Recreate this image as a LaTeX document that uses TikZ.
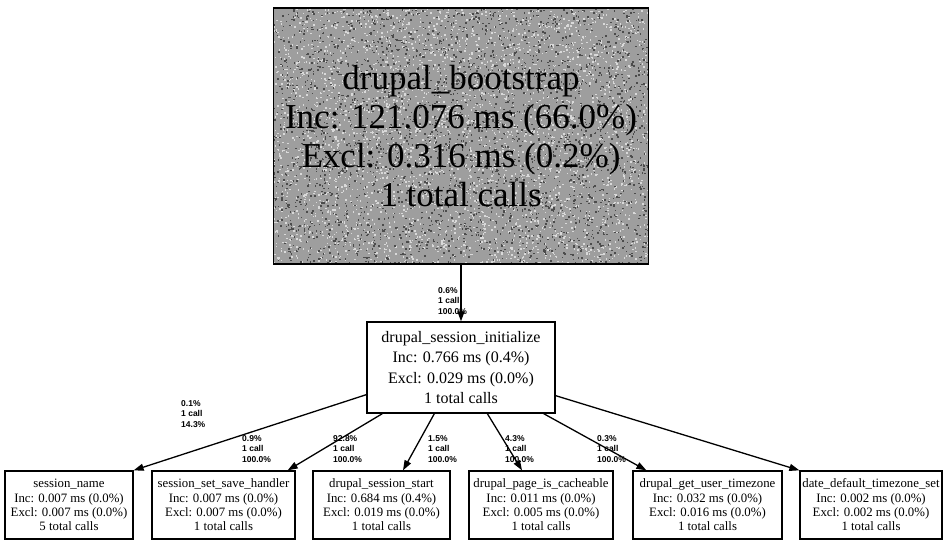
\documentclass[tikz,border=0pt]{standalone}
\usepackage{fontspec}
\setmainfont{Liberation Serif}
\newfontfamily\lblfont{Liberation Sans}
\usetikzlibrary{arrows.meta,calc,backgrounds}
\begin{document}
\begin{tikzpicture}[x=1pt,y=-1pt,
  fn/.style={draw, line width=1.3pt, inner sep=0pt, align=center, anchor=center},
  bigbox/.style={fn, minimum width=375pt, minimum height=256pt, font=\fontsize{35}{39}\selectfont},
  midbox/.style={fn, fill=white, minimum width=188pt, minimum height=91pt, font=\fontsize{16}{20.3}\selectfont},
  leaf/.style={fn, minimum height=68pt, font=\fontsize{12.8}{14.3}\selectfont},
  call/.style={-{Triangle[length=10pt,width=7pt]}, line width=1.3pt},
  lbl/.style={inner sep=0pt, anchor=north west, align=left, font=\lblfont\bfseries\fontsize{8.5}{10.8}\selectfont}]
\useasboundingbox (0,0) rectangle (943,540);

\node[bigbox] (boot) at (461,136) {drupal\_bootstrap\\Inc: 121.076 ms (66.0\%)\\Excl: 0.316 ms (0.2\%)\\1 total calls};
\begin{scope}[on background layer]
  \fill[black!38] (boot.north west) rectangle (boot.south east);
  \clip (boot.north west) rectangle (boot.south east);
  \pgfmathsetseed{7}
  \foreach \i in {1,...,3500} {
    \pgfmathsetmacro{\rx}{273+375*rnd}
    \pgfmathsetmacro{\ry}{8+256*rnd}
    \fill[white!85!black] (\rx,\ry) rectangle ++(1.5,1.5);
  }
  \foreach \i in {1,...,3000} {
    \pgfmathsetmacro{\rx}{273+375*rnd}
    \pgfmathsetmacro{\ry}{8+256*rnd}
    \fill[black!70] (\rx,\ry) rectangle ++(1.5,1.5);
  }
\end{scope}

\node[midbox] (init) at (461,367.5) {drupal\_session\_initialize\\Inc: 0.766 ms (0.4\%)\\Excl: 0.029 ms (0.0\%)\\1 total calls};

\node[leaf, minimum width=128pt] (sn) at (69,505) {session\_name\\Inc: 0.007 ms (0.0\%)\\Excl: 0.007 ms (0.0\%)\\5 total calls};
\node[leaf, minimum width=143pt] (ssh) at (223.5,505) {session\_set\_save\_handler\\Inc: 0.007 ms (0.0\%)\\Excl: 0.007 ms (0.0\%)\\1 total calls};
\node[leaf, minimum width=137pt] (dss) at (381.5,505) {drupal\_session\_start\\Inc: 0.684 ms (0.4\%)\\Excl: 0.019 ms (0.0\%)\\1 total calls};
\node[leaf, minimum width=144pt] (dpc) at (541,505) {drupal\_page\_is\_cacheable\\Inc: 0.011 ms (0.0\%)\\Excl: 0.005 ms (0.0\%)\\1 total calls};
\node[leaf, minimum width=149pt] (dgut) at (707.5,505) {drupal\_get\_user\_timezone\\Inc: 0.032 ms (0.0\%)\\Excl: 0.016 ms (0.0\%)\\1 total calls};
\node[leaf, minimum width=142pt] (ddts) at (871,505) {date\_default\_timezone\_set\\Inc: 0.002 ms (0.0\%)\\Excl: 0.002 ms (0.0\%)\\1 total calls};

\node[lbl] (l0) at (438,287) {0.6\%\\1 call\\100.0\%};
\node[lbl] (l1) at (181,400) {0.1\%\\1 call\\14.3\%};
\node[lbl] (l2) at (242,435) {0.9\%\\1 call\\100.0\%};
\node[lbl] (l3) at (333,435) {92.8\%\\1 call\\100.0\%};
\node[lbl] (l4) at (428,435) {1.5\%\\1 call\\100.0\%};
\node[lbl] (l5) at (505,435) {4.3\%\\1 call\\100.0\%};
\node[lbl] (l6) at (597,435) {0.3\%\\1 call\\100.0\%};

\draw[call] (boot.south) -- (init.north);
\draw[call] ($(init.south west)+(0,-19)$) -- (sn.north east);
\draw[call] ($(init.south west)+(16,0)$) -- ($(ssh.north east)+(-8,0)$);
\draw[call] ($(init.south west)+(68,0)$) -- ($(dss.north)+(21.5,0)$);
\draw[call] ($(init.south west)+(121,0)$) -- ($(dpc.north)+(-19,0)$);
\draw[call] ($(init.south east)+(-12,0)$) -- ($(dgut.north west)+(14,0)$);
\draw[call] ($(init.south east)+(0,-18)$) -- (ddts.north west);
\end{tikzpicture}
\end{document}
